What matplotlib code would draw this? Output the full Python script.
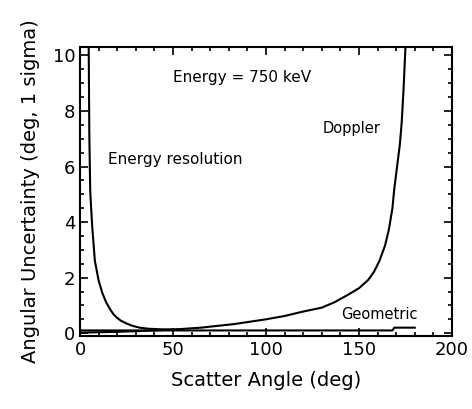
import matplotlib.pyplot as plt
from matplotlib.ticker import MultipleLocator

plt.rcParams['font.family'] = 'DejaVu Sans'

# Values
energy_x = [4.5, 5, 5.5, 6.5, 8, 10, 12, 14, 16, 18, 20, 22, 25, 28, 32, 37, 44, 55]
energy_y = [12.0, 7.2, 5.1, 3.9, 2.6, 1.9, 1.45, 1.12, 0.88, 0.68, 0.55, 0.45, 0.35, 0.27, 0.2, 0.16, 0.14, 0.13]

doppler_x = [0, 20, 40, 50, 65, 83, 100, 110, 120, 130, 137, 144, 150, 155, 158, 161, 164, 166,
             168, 169, 170.5, 172, 173, 174, 175, 176]
doppler_y = [0.02, 0.05, 0.1, 0.13, 0.2, 0.33, 0.5, 0.62, 0.78, 0.92, 1.12, 1.38, 1.62, 1.92, 2.2, 2.6,
             3.15, 3.7, 4.5, 5.2, 6.0, 6.8, 7.6, 8.8, 10.3, 12.0]

geom_x = [0, 168, 169, 180]
geom_y = [0.1, 0.1, 0.2, 0.2]

fig = plt.figure(figsize=(4.72, 4.09), dpi=100)
ax = fig.add_axes([0.1695, 0.1785, 0.788, 0.7065])

ax.plot(energy_x, energy_y, color='black', lw=1.5)
ax.plot(doppler_x, doppler_y, color='black', lw=1.5)
ax.plot(geom_x, geom_y, color='black', lw=1.5)

ax.set_xlim(0, 200)
ax.set_ylim(-0.1, 10.3)
ax.xaxis.set_major_locator(MultipleLocator(50))
ax.xaxis.set_minor_locator(MultipleLocator(10))
ax.yaxis.set_major_locator(MultipleLocator(2))
ax.yaxis.set_minor_locator(MultipleLocator(0.5))
ax.tick_params(which='both', direction='in', top=True, right=True, width=1.2, labelsize=13)
ax.tick_params(which='major', length=6)
ax.tick_params(which='minor', length=3)
for s in ax.spines.values():
    s.set_linewidth(1.5)

ax.set_xlabel('Scatter Angle (deg)', fontsize=14, labelpad=9)
ax.set_ylabel('Angular Uncertainty (deg, 1 sigma)', fontsize=14, labelpad=9)

ax.text(50, 9.2, 'Energy = 750 keV', fontsize=11, va='center')
ax.text(15, 6.27, 'Energy resolution', fontsize=11, va='center')
ax.text(130.5, 7.35, 'Doppler', fontsize=10.5, va='center')
ax.text(140.5, 0.69, 'Geometric', fontsize=10.5, va='center')

fig.savefig('out.png', dpi=100)
